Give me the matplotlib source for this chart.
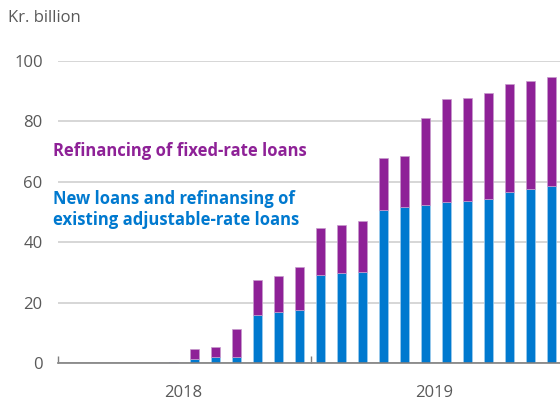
import numpy as np
import matplotlib.pyplot as plt
from matplotlib.ticker import FixedLocator, NullFormatter, FixedFormatter

plt.rcParams['font.family'] = ['Open Sans', 'DejaVu Sans']

# monthly values, Jan 2018 - Dec 2019 (NOK billion)
months = np.arange(24)
new_adjustable = [0, 0, 0, 0, 0, 0.3, 1.3, 1.9, 2.1, 15.8, 16.8, 17.4,
                  29.1, 29.8, 30.1, 50.8, 51.7, 52.3, 53.4, 53.8, 54.4, 56.6, 57.6, 58.5]
totals = [0, 0, 0, 0, 0, 0.3, 4.7, 5.4, 11.4, 27.5, 28.7, 31.9,
          44.7, 45.6, 47.0, 67.9, 68.6, 81.1, 87.4, 87.8, 89.3, 92.4, 93.4, 94.6]
refi_fixed = [t - n for t, n in zip(totals, new_adjustable)]
years = ['2018', '2019']

blue = '#0079CF'
purple = '#8E2197'
grey = '#595959'

fig = plt.figure(figsize=(5.6, 4.04), dpi=100)
ax = fig.add_axes([58 / 560, 41 / 404, 1 - 58 / 560, 302 / 404])

ax.bar(months, new_adjustable, width=0.42, color=blue, edgecolor='#9fcdee', linewidth=0.5, zorder=3)
ax.bar(months, refi_fixed, width=0.42, bottom=new_adjustable, color=purple,
       edgecolor='#c79bcc', linewidth=0.5, zorder=3)

ax.set_xlim(-0.5, 23.4)
ax.set_ylim(0, 100)
ax.set_yticks(np.arange(0, 101, 20))
ax.yaxis.grid(True, color='#d0d0d0', linewidth=1.2, zorder=0)
ax.tick_params(axis='y', length=0, labelsize=12, labelcolor=grey, pad=11)

# year separators as major ticks, year names as minor labels
ax.xaxis.set_major_locator(FixedLocator([-0.5, 11.55]))
ax.xaxis.set_major_formatter(NullFormatter())
ax.xaxis.set_minor_locator(FixedLocator([5.45, 17.4]))
ax.xaxis.set_minor_formatter(FixedFormatter(years))
ax.tick_params(axis='x', which='major', direction='in', length=5, color='#7f7f7f', width=1)
ax.tick_params(axis='x', which='minor', length=0, labelsize=12, labelcolor=grey, pad=16)

for s in ['top', 'right', 'left']:
    ax.spines[s].set_visible(False)
ax.spines['bottom'].set_color('#7f7f7f')
ax.spines['bottom'].set_linewidth(1.2)
ax.spines['bottom'].set_zorder(4)

fig.text(8 / 560, 1 - 18 / 404, 'Kr. billion', fontsize=12, color=grey, va='center', ha='left')
fig.text(53 / 560, 1 - 151 / 404, 'Refinancing of fixed-rate loans', fontsize=12, fontweight='bold',
         color=purple, va='center', ha='left')
fig.text(53 / 560, 1 - 209.5 / 404, 'New loans and refinansing of\nexisting adjustable-rate loans',
         fontsize=12, fontweight='bold', color=blue, va='center', ha='left', linespacing=1.2)

fig.savefig('out.png', dpi=100)
